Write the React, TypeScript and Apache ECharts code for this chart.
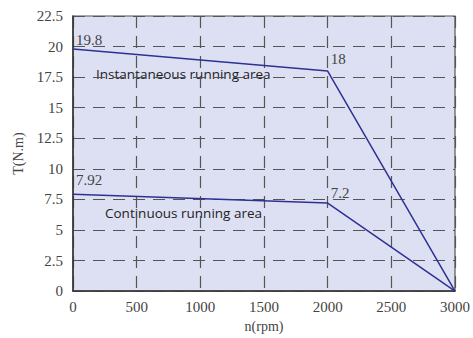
import React, { useEffect, useRef } from "react";
import * as echarts from "echarts";

const speeds = [0, 2000, 3000];
const instantaneous = [19.8, 18, 0];
const continuous = [7.92, 7.2, 0];
const instLabels = ["19.8", "18", ""];
const contLabels = ["7.92", "7.2", ""];
const instOffsets = [[-2, -9], [-2, -12], [0, 0]];
const contOffsets = [[-2, -14], [-2, -10], [0, 0]];

const lineColor = "#2e3192";
const gridColor = "#555";
const textColor = "#444";
const serif = "'Liberation Serif', 'DejaVu Serif', serif";

function buildData(vals: number[], labels: string[], offsets: number[][]) {
  return speeds.map((x, i) => ({
    value: [x, vals[i]],
    label: {
      show: labels[i] !== "",
      formatter: labels[i],
      position: "right",
      offset: offsets[i],
      fontFamily: serif,
      fontSize: 15,
      color: textColor,
    },
  }));
}

export default function App() {
  const ref = useRef<HTMLDivElement>(null);
  useEffect(() => {
    if (!ref.current) return;
    const chart = echarts.init(ref.current, undefined, { renderer: "svg" });
    chart.setOption({
      animation: false,
      grid: {
        left: 73,
        right: 14,
        top: 16,
        bottom: 46,
        show: true,
        backgroundColor: "#dde0f3",
        borderColor: gridColor,
        borderWidth: 1.2,
      },
      xAxis: {
        type: "value",
        min: 0,
        max: 3000,
        interval: 500,
        name: "n(rpm)",
        nameLocation: "middle",
        nameGap: 26,
        nameTextStyle: { fontFamily: serif, fontSize: 14, color: textColor },
        axisLine: { show: true, lineStyle: { color: "#333", width: 1.5 } },
        axisTick: { show: false },
        axisLabel: {
          fontFamily: serif,
          fontSize: 15,
          color: textColor,
          margin: 8,
          formatter: (v: number) => String(v),
        },
        splitLine: { show: true, lineStyle: { color: gridColor, type: [12, 8], width: 1.2 } },
      },
      yAxis: {
        type: "value",
        min: 0,
        max: 22.5,
        interval: 2.5,
        name: "T(N.m)",
        nameLocation: "middle",
        nameGap: 48,
        nameRotate: 90,
        nameTextStyle: { fontFamily: serif, fontSize: 14, color: textColor },
        axisLine: { show: true, lineStyle: { color: "#333", width: 1.5 } },
        axisTick: { show: false },
        axisLabel: {
          fontFamily: serif,
          fontSize: 15,
          color: textColor,
          margin: 10,
          formatter: (v: number) => String(v),
        },
        splitLine: { show: true, lineStyle: { color: gridColor, type: [12, 8], width: 1.2 } },
      },
      series: [
        {
          type: "line",
          data: buildData(instantaneous, instLabels, instOffsets),
          symbol: "circle",
          symbolSize: 0,
          showSymbol: true,
          lineStyle: { color: lineColor, width: 1.5 },
          itemStyle: { color: lineColor },
        },
        {
          type: "line",
          data: buildData(continuous, contLabels, contOffsets),
          symbol: "circle",
          symbolSize: 0,
          showSymbol: true,
          lineStyle: { color: lineColor, width: 1.5 },
          itemStyle: { color: lineColor },
        },
      ],
      graphic: [
        {
          type: "text",
          left: 96,
          top: 67,
          style: {
            text: "Instantaneous running area",
            font: "13.5px 'Open Sans', 'Noto Sans', sans-serif",
            fill: "#222",
          },
        },
        {
          type: "text",
          left: 105,
          top: 206,
          style: {
            text: "Continuous running area",
            font: "13.5px 'Open Sans', 'Noto Sans', sans-serif",
            fill: "#222",
          },
        },
      ],
    });
    return () => chart.dispose();
  }, []);
  return (
    <div
      ref={ref}
      style={{ position: "absolute", left: 0, top: 0, width: 473, height: 338 }}
    />
  );
}
